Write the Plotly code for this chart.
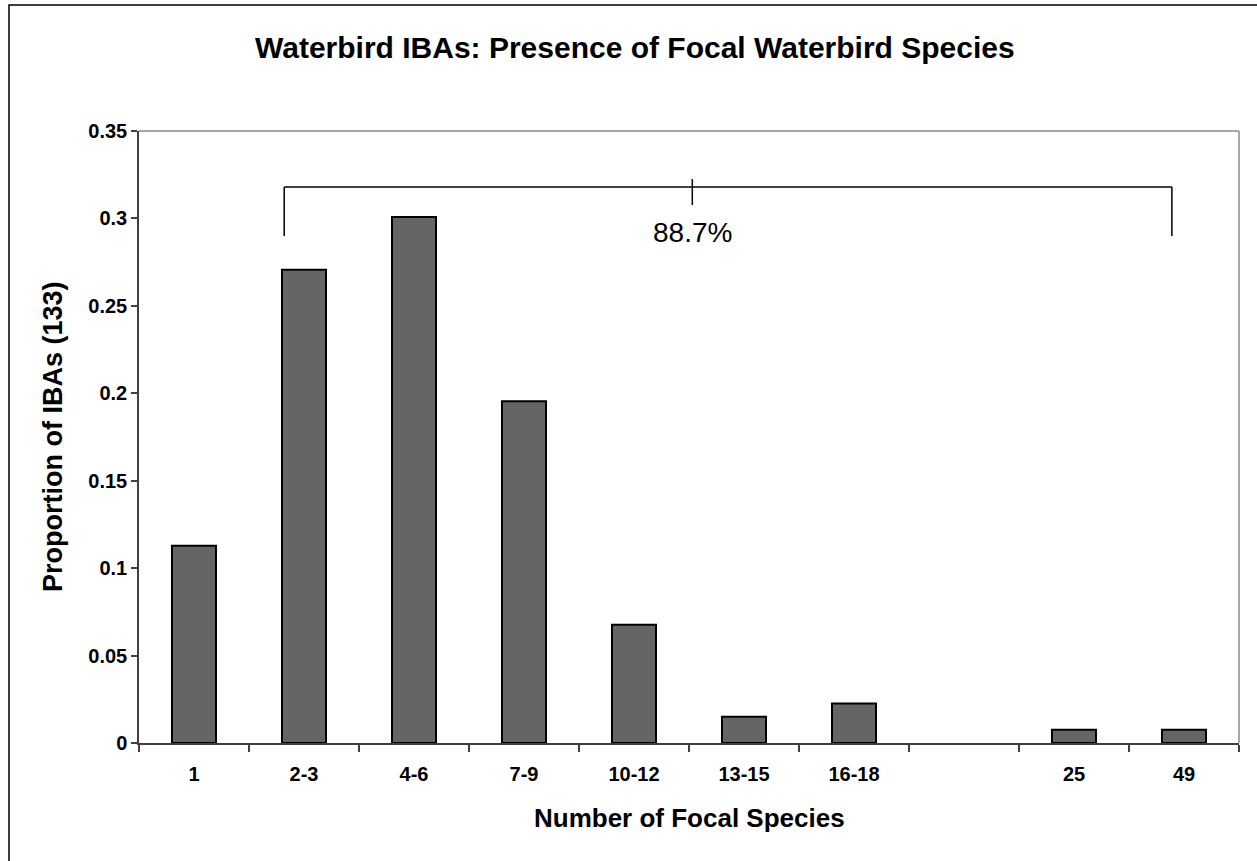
import plotly.graph_objects as go

# ---- data ----
categories = ["1", "2-3", "4-6", "7-9", "10-12", "13-15", "16-18", " ", "25", "49"]
counts = [15, 36, 40, 26, 9, 2, 3, 0, 1, 1]
total_ibas = 133
proportions = [c / total_ibas if c else None for c in counts]
bracket_label = "88.7%"

title_text = "Waterbird IBAs: Presence of Focal Waterbird Species"
x_title = "Number of Focal Species"
y_title = "Proportion of IBAs (133)"

FONT = "Liberation Sans, Arial, sans-serif"

fig = go.Figure()
fig.add_trace(go.Bar(
    x=categories,
    y=proportions,
    marker=dict(color="#656565", line=dict(color="#000000", width=2)),
    width=0.4,
    hoverinfo="x+y",
))

# bracket (in data coordinates of the category axis)
bx0, bx1, bmid = 0.82, 8.89, 4.53
by_top, by_leg, by_tick_top, by_tick_bot = 0.318, 0.29, 0.3225, 0.3077
line_style = dict(color="#000000", width=1.5)
shapes = [
    dict(type="line", xref="x", yref="y", x0=bx0, x1=bx1, y0=by_top, y1=by_top, line=line_style),
    dict(type="line", xref="x", yref="y", x0=bx0, x1=bx0, y0=by_top, y1=by_leg, line=line_style),
    dict(type="line", xref="x", yref="y", x0=bx1, x1=bx1, y0=by_top, y1=by_leg, line=line_style),
    dict(type="line", xref="x", yref="y", x0=bmid, x1=bmid, y0=by_tick_top, y1=by_tick_bot, line=line_style),
    # plot-area top and right borders (gray)
    dict(type="line", xref="paper", yref="paper", x0=0, x1=1, y0=1, y1=1, line=dict(color="#8a8a8a", width=1.5)),
    dict(type="line", xref="paper", yref="paper", x0=1, x1=1, y0=0, y1=1, line=dict(color="#8a8a8a", width=1.5)),
    # outer chart border
    dict(type="rect", xref="paper", yref="paper",
         x0=(9 - 139) / 1100, x1=(1280 - 139) / 1100,
         y0=(743 - 880) / 612, y1=(743 - 5) / 612,
         line=dict(color="#000000", width=1.5), layer="below"),
]

annotations = [
    dict(text=bracket_label, xref="x", yref="y", x=bmid, y=0.2922, showarrow=False,
         font=dict(family=FONT, size=28, color="#000000"), xanchor="center", yanchor="middle"),
    dict(text="<b>" + title_text + "</b>", xref="paper", yref="paper",
         x=(635 - 139) / 1100, y=(743 - 47) / 612, showarrow=False,
         font=dict(family=FONT, size=30, color="#000000"), xanchor="center", yanchor="middle"),
    dict(text="<b>" + x_title + "</b>", xref="paper", yref="paper",
         x=0.5, y=(743 - 818) / 612, showarrow=False,
         font=dict(family=FONT, size=26, color="#000000"), xanchor="center", yanchor="middle"),
    dict(text="<b>" + y_title + "</b>", xref="paper", yref="paper",
         x=(53 - 139) / 1100, y=0.5, showarrow=False, textangle=-90,
         font=dict(family=FONT, size=27, color="#000000"), xanchor="center", yanchor="middle"),
]

fig.update_layout(
    width=1257, height=861,
    margin=dict(l=139, r=18, t=131, b=118),
    paper_bgcolor="white", plot_bgcolor="white",
    showlegend=False,
    shapes=shapes,
    annotations=annotations,
    font=dict(family=FONT, color="#000000"),
    xaxis=dict(
        type="category",
        categoryorder="array", categoryarray=categories,
        range=[-0.5, len(categories) - 0.5],
        showline=True, linecolor="#404040", linewidth=1.5,
        ticks="outside", tickson="boundaries", ticklen=7, tickcolor="#404040", tickwidth=1.5,
        tickfont=dict(family=FONT, size=20, color="#000000", weight="bold"),
        ticklabelstandoff=12,
        showgrid=False, zeroline=False,
    ),
    yaxis=dict(
        range=[0, 0.35], dtick=0.05, tick0=0,
        showline=True, linecolor="#404040", linewidth=1.5,
        ticks="outside", ticklen=6, tickcolor="#404040", tickwidth=1.5,
        tickfont=dict(family=FONT, size=20, color="#000000", weight="bold"),
        showgrid=False, zeroline=False,
    ),
)

fig.write_html("out.html")
